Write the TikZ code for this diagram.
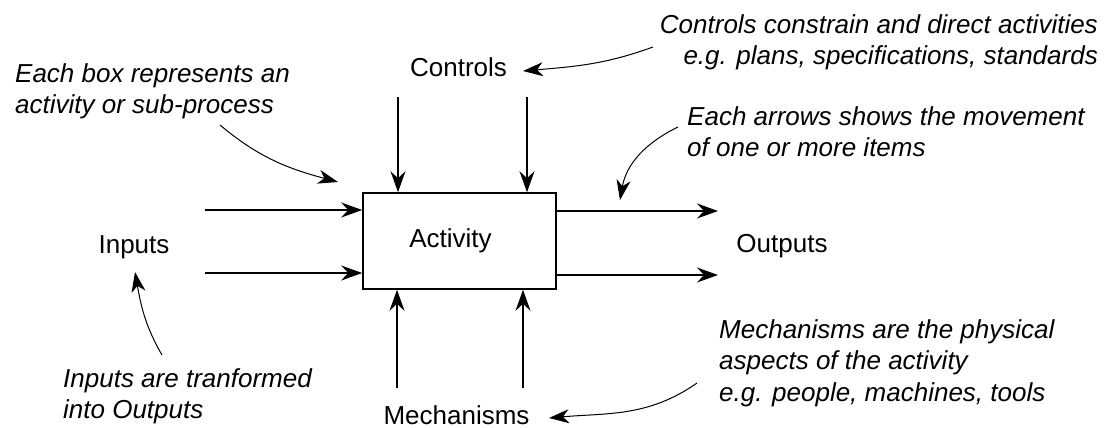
\documentclass[tikz,border=0pt]{standalone}
\usepackage{fontspec}
\setmainfont{Liberation Sans}
\usetikzlibrary{arrows.meta}
\begin{document}
\begin{tikzpicture}[x=1pt,y=1pt,
  lbl/.style={inner sep=0pt, font=\fontsize{26}{31.5}\selectfont},
  note/.style={inner sep=0pt, align=left, font=\fontsize{26}{31.5}\selectfont\itshape},
  actbox/.style={draw, line width=1.6pt, minimum width=193pt, minimum height=96pt, inner sep=0pt, font=\fontsize{26}{31.5}\selectfont},
  arr/.style={line width=1.6pt, -{Stealth[length=21pt,width=15pt,inset=7pt]}},
  carr/.style={line width=1pt, -{Stealth[length=20pt,width=14pt,inset=6pt]}}]
\fill[white] (0,0) rectangle (1114,-428);
\useasboundingbox (0,0) rectangle (1114,-428);

% activity box
\node[actbox] (act) at (459.5,-241) {\hspace*{-18pt}Activity};

% labels
\node[lbl, anchor=base] (ctl) at (458.5,-77) {Controls};
\node[lbl, anchor=base] (mech) at (456.5,-424) {Mechanisms};
\node[lbl, anchor=base] (inp) at (134,-253) {Inputs};
\node[lbl, anchor=base] (outp) at (782,-252) {Outputs};

% annotations
\node[note, anchor=north west] (n1) at (15,-63) {Each box represents an\\activity or sub-process};
\node[note, anchor=north east, align=right] (n2) at (1098,-14) {Controls constrain and direct activities\\e.g. plans, specifications, standards};
\node[note, anchor=north west] (n3) at (687,-106) {Each arrows shows the movement\\of one or more items};
\node[note, anchor=north west] (n4) at (719,-319) {Mechanisms are the physical\\aspects of the activity\\e.g. people, machines, tools};
\node[note, anchor=north west] (n5) at (63,-368) {Inputs are tranformed\\into Outputs};

% ICOM arrows
\coordinate (i1) at (205,-210);
\coordinate (i2) at (205,-273);
\coordinate (o1) at (718,-211);
\coordinate (o2) at (718,-275);
\coordinate (c1) at (398,-97);
\coordinate (c2) at (527,-97);
\coordinate (m1) at (397,-388);
\coordinate (m2) at (523,-388);
\draw[arr] (i1) -- (i1 -| act.west);
\draw[arr] (i2) -- (i2 -| act.west);
\draw[arr] (o1 -| act.east) -- (o1);
\draw[arr] (o2 -| act.east) -- (o2);
\draw[arr] (c1) -- (c1 |- act.north);
\draw[arr] (c2) -- (c2 |- act.north);
\draw[arr] (m1) -- (m1 |- act.south);
\draw[arr] (m2) -- (m2 |- act.south);

% annotation arrows
\coordinate (s1) at (220,-125);  \coordinate (t1) at (338,-182);
\coordinate (s2) at (653,-47);   \coordinate (t2) at (523,-71);
\coordinate (s3) at (678,-127);  \coordinate (t3) at (620,-200);
\coordinate (s4) at (162,-355);  \coordinate (t4) at (135,-272);
\coordinate (s5) at (697,-383);  \coordinate (t5) at (549,-418);
\draw[carr] (s1) to[out=-40,in=165] (t1);
\draw[carr] (s2) to[out=200,in=5] (t2);
\draw[carr] (s3) to[out=206,in=80] (t3);
\draw[carr] (s4) to[out=120,in=-80] (t4);
\draw[carr] (s5) to[out=215,in=5] (t5);
\end{tikzpicture}
\end{document}
